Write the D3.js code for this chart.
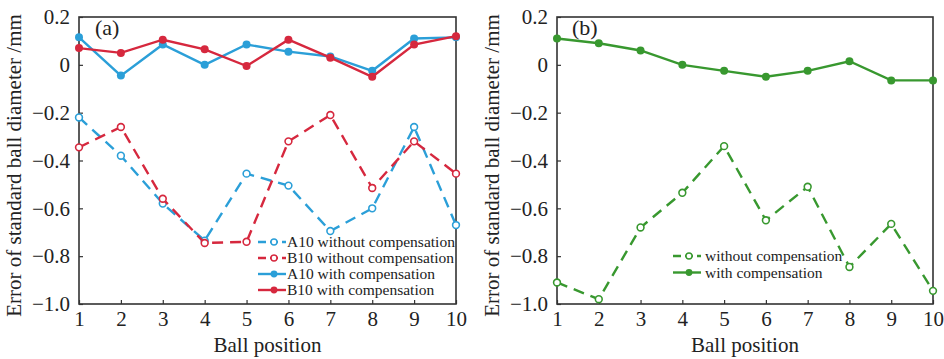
<!DOCTYPE html>
<html>
<head>
<meta charset="utf-8">
<script src="https://cdn.jsdelivr.net/npm/d3@7"></script>
<style>
  body { margin: 0; background: #fff; }
  text { font-family: "Liberation Serif", "DejaVu Serif", serif; fill: #222; }
  .frame { fill: none; stroke: #333; stroke-width: 1.6px; }
  .axis path { display: none; }
  .axis line { stroke: #333; stroke-width: 1.2px; }
  .axis text { font-size: 21px; }
</style>
</head>
<body>
<div id="chart"></div>
<script>
var positions = [1, 2, 3, 4, 5, 6, 7, 8, 9, 10];
var yTicks = [0.2, 0, -0.2, -0.4, -0.6, -0.8, -1.0];
var yTickLabels = ["0.2", "0", "\u22120.2", "\u22120.4", "\u22120.6", "\u22120.8", "\u22121.0"];

// panel (a)
var a10Without = [-0.22, -0.38, -0.58, -0.735, -0.455, -0.505, -0.695, -0.60, -0.26, -0.67];
var b10Without = [-0.345, -0.26, -0.56, -0.745, -0.74, -0.32, -0.21, -0.515, -0.32, -0.455];
var a10With = [0.115, -0.045, 0.085, 0.0, 0.085, 0.055, 0.035, -0.025, 0.11, 0.115];
var b10With = [0.07, 0.05, 0.105, 0.065, -0.005, 0.105, 0.03, -0.05, 0.085, 0.12];

// panel (b)
var bWithout = [-0.91, -0.98, -0.68, -0.535, -0.34, -0.65, -0.51, -0.845, -0.665, -0.945];
var bWith = [0.11, 0.09, 0.06, 0.0, -0.025, -0.05, -0.025, 0.015, -0.065, -0.065];

var blue = "#2b9fd8", red = "#d6283e", green = "#38982f";

var width = 944, height = 359;
var svg = d3.select("#chart").append("svg")
  .attr("width", width)
  .attr("height", height);

var plotTop = 17, plotBottom = 304;

function panel(left, right, label, labelX, series, legendX, legendY, legendStep, legendTextX) {
  var x = d3.scaleLinear().domain([1, 10]).range([left, right]);
  var y = d3.scaleLinear().domain([-1.0, 0.2]).range([plotBottom, plotTop]);
  var g = svg.append("g");

  g.append("g")
    .attr("class", "axis")
    .attr("transform", "translate(0," + plotBottom + ")")
    .call(d3.axisBottom(x).tickValues(positions).tickSize(-4).tickPadding(7).tickFormat(d3.format("d")));

  g.append("g")
    .attr("class", "axis")
    .attr("transform", "translate(" + left + ",0)")
    .call(d3.axisLeft(y).tickValues(yTicks).tickSize(-4).tickPadding(9)
      .tickFormat(function (d, i) { return yTickLabels[i]; }));

  g.selectAll(".axis text").style("font-size", "21px");

  g.append("rect")
    .attr("class", "frame")
    .attr("x", left).attr("y", plotTop)
    .attr("width", right - left).attr("height", plotBottom - plotTop);

  var line = d3.line()
    .x(function (d, i) { return x(positions[i]); })
    .y(function (d) { return y(d); });

  series.forEach(function (s) {
    g.append("path")
      .datum(s.values)
      .attr("fill", "none")
      .attr("stroke", s.color)
      .attr("stroke-width", 2.4)
      .attr("stroke-dasharray", s.dashed ? "11,7" : null)
      .attr("d", line);
    g.selectAll(null)
      .data(s.values)
      .enter().append("circle")
      .attr("cx", function (d, i) { return x(positions[i]); })
      .attr("cy", function (d) { return y(d); })
      .attr("r", s.dashed ? 3.4 : 4)
      .attr("fill", s.dashed ? "#fff" : s.color)
      .attr("stroke", s.color)
      .attr("stroke-width", s.dashed ? 1.6 : 0);
  });

  // legend
  series.forEach(function (s, i) {
    var ly = legendY + i * legendStep;
    var lg = g.append("g");
    lg.append("line")
      .attr("x1", legendX).attr("x2", legendX + 28)
      .attr("y1", ly).attr("y2", ly)
      .attr("stroke", s.color)
      .attr("stroke-width", 2.4)
      .attr("stroke-dasharray", s.dashed ? "8,4" : null);
    lg.append("circle")
      .attr("cx", legendX + 16).attr("cy", ly)
      .attr("r", s.dashed ? 3 : 3.4)
      .attr("fill", s.dashed ? "#fff" : s.color)
      .attr("stroke", s.color)
      .attr("stroke-width", s.dashed ? 1.4 : 0);
    lg.append("text")
      .attr("x", legendTextX)
      .attr("y", ly)
      .attr("dy", "0.35em")
      .style("font-size", "15.5px")
      .text(s.name);
  });

  g.append("text")
    .attr("x", labelX).attr("y", 35)
    .style("font-size", "22px")
    .text(label);

  g.append("text")
    .attr("x", (left + right) / 2)
    .attr("y", 352)
    .attr("text-anchor", "middle")
    .style("font-size", "21px")
    .text("Ball position");

  g.append("text")
    .attr("transform", "translate(" + (left - 58) + "," + ((plotTop + plotBottom) / 2 + 5) + ") rotate(-90)")
    .attr("text-anchor", "middle")
    .style("font-size", "21px")
    .text("Error of standard ball diameter /mm");
}

panel(79, 456, "(a)", 95, [
  { name: "A10 without compensation", values: a10Without, color: blue, dashed: true },
  { name: "B10 without compensation", values: b10Without, color: red, dashed: true },
  { name: "A10 with compensation", values: a10With, color: blue, dashed: false },
  { name: "B10 with compensation", values: b10With, color: red, dashed: false }
], 258, 242, 16, 287);

panel(557, 933, "(b)", 572, [
  { name: "without compensation", values: bWithout, color: green, dashed: true },
  { name: "with compensation", values: bWith, color: green, dashed: false }
], 673, 256, 16.5, 705);
</script>
</body>
</html>
